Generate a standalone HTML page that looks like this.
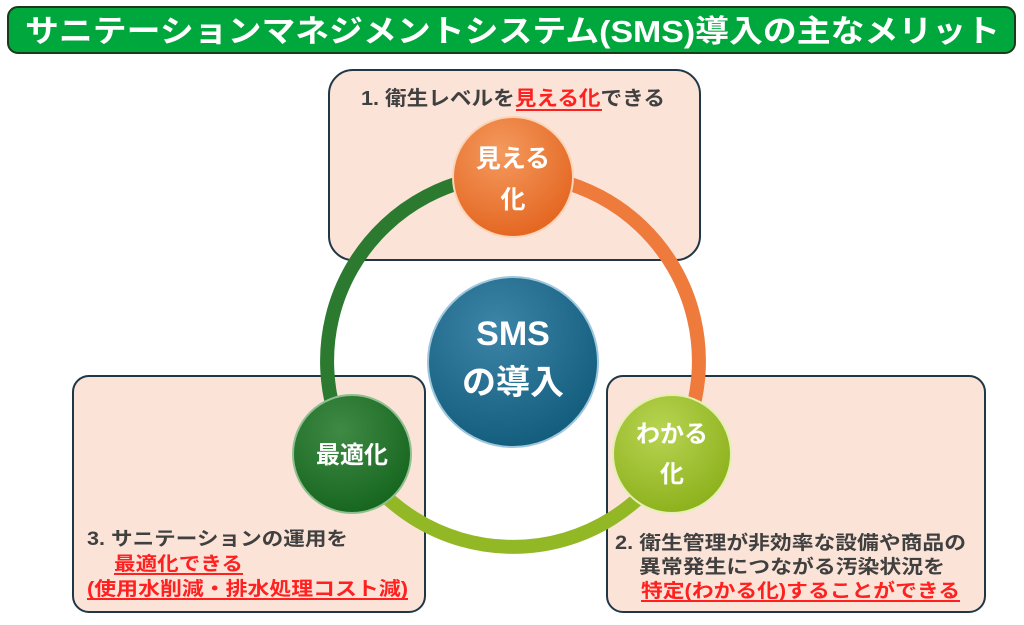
<!DOCTYPE html>
<html><head><meta charset="utf-8"><style>
body{margin:0;background:#fff;}
svg text{font-family:"Liberation Sans","Noto Sans CJK JP",sans-serif;font-weight:bold;}
</style></head><body>
<svg width="1024" height="620" viewBox="0 0 1024 620" xmlns="http://www.w3.org/2000/svg">
<defs>
<radialGradient id="go" cx="0.4" cy="0.3" r="0.8"><stop offset="0" stop-color="#f49a5e"/><stop offset="1" stop-color="#e2601a"/></radialGradient>
<radialGradient id="gg" cx="0.4" cy="0.3" r="0.8"><stop offset="0" stop-color="#3f8a45"/><stop offset="1" stop-color="#12621a"/></radialGradient>
<radialGradient id="gy" cx="0.4" cy="0.3" r="0.8"><stop offset="0" stop-color="#b8d452"/><stop offset="1" stop-color="#88ad16"/></radialGradient>
<radialGradient id="gb" cx="0.4" cy="0.3" r="0.8"><stop offset="0" stop-color="#3d85a8"/><stop offset="1" stop-color="#0e5878"/></radialGradient>
</defs>
<rect x="8" y="7" width="1007" height="46" rx="10" fill="#00a73c" stroke="#1a3a1a" stroke-width="2"/>
<text x="25" y="42" font-size="31" fill="#fff" textLength="975" lengthAdjust="spacingAndGlyphs">サニテーションマネジメントシステム(SMS)導入の主なメリット</text>

<rect x="329" y="70" width="371" height="190" rx="24" fill="#fbe3d7" stroke="#1f3747" stroke-width="2"/>
<rect x="73" y="376" width="352" height="236" rx="16" fill="#fbe3d7" stroke="#1f3747" stroke-width="2"/>
<rect x="607" y="376" width="378" height="236" rx="16" fill="#fbe3d7" stroke="#1f3747" stroke-width="2"/>

<text x="361" y="105" font-size="20" fill="#404040" textLength="304" lengthAdjust="spacingAndGlyphs">1. 衛生レベルを<tspan fill="#ff2020">見える化</tspan>できる</text>
<line x1="516" y1="110" x2="602" y2="110" stroke="#ff2020" stroke-width="2"/>

<path d="M513,175 A186,186 0 0 0 352,454" fill="none" stroke="#2b7a30" stroke-width="14"/>
<path d="M513,175 A186,186 0 0 1 674,454" fill="none" stroke="#ee7a3c" stroke-width="14"/>
<path d="M352,454 A186,186 0 0 0 674,454" fill="none" stroke="#93b826" stroke-width="14"/>

<circle cx="513" cy="362" r="85" fill="url(#gb)" stroke="#9ec7dd" stroke-width="2"/>
<text x="513" y="345" font-size="34" fill="#fff" text-anchor="middle">SMS</text>
<text x="513" y="394" font-size="34" fill="#fff" text-anchor="middle">の導入</text>

<circle cx="513" cy="177" r="60" fill="url(#go)" stroke="#fbd3b5" stroke-width="2"/>
<text x="513" y="167" font-size="25" fill="#fff" text-anchor="middle">見える</text>
<text x="513" y="208" font-size="25" fill="#fff" text-anchor="middle">化</text>

<circle cx="352" cy="454" r="59" fill="url(#gg)" stroke="#8fbf90" stroke-width="2"/>
<text x="352" y="463" font-size="24" fill="#fff" text-anchor="middle">最適化</text>

<circle cx="672" cy="454" r="59" fill="url(#gy)" stroke="#e3f0b0" stroke-width="2"/>
<text x="672" y="442" font-size="24" fill="#fff" text-anchor="middle">わかる</text>
<text x="672" y="482" font-size="24" fill="#fff" text-anchor="middle">化</text>

<text x="87" y="545" font-size="19" fill="#404040" textLength="261" lengthAdjust="spacingAndGlyphs">3. サニテーションの運用を</text>
<text x="114" y="570" font-size="19" fill="#ff2020" textLength="129" lengthAdjust="spacingAndGlyphs">最適化できる</text>
<line x1="114" y1="574" x2="243" y2="574" stroke="#ff2020" stroke-width="2"/>
<text x="87" y="595" font-size="19" fill="#ff2020" textLength="321" lengthAdjust="spacingAndGlyphs">(使用水削減・排水処理コスト減)</text>
<line x1="87" y1="599" x2="408" y2="599" stroke="#ff2020" stroke-width="2"/>

<text x="615" y="549" font-size="19" fill="#404040" textLength="351" lengthAdjust="spacingAndGlyphs">2. 衛生管理が非効率な設備や商品の</text>
<text x="639" y="573" font-size="19" fill="#404040" textLength="306" lengthAdjust="spacingAndGlyphs">異常発生につながる汚染状況を</text>
<text x="641" y="597" font-size="19" fill="#ff2020" textLength="319" lengthAdjust="spacingAndGlyphs">特定(わかる化)することができる</text>
<line x1="641" y1="601" x2="960" y2="601" stroke="#ff2020" stroke-width="2"/>
</svg>
</body></html>
